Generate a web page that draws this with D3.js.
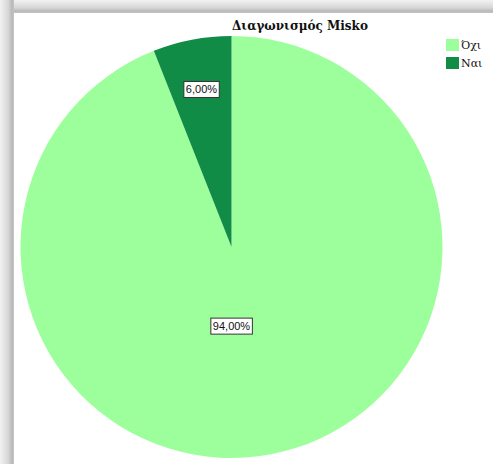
<!DOCTYPE html>
<html>
<head>
<meta charset="utf-8">
<script src="https://cdn.jsdelivr.net/npm/d3@7"></script>
<style>
  html, body { margin: 0; padding: 0; background: #fff; }
  svg { display: block; }
</style>
</head>
<body>
<svg id="chart" width="493" height="464"></svg>
<script>
// Diagnosis answers (percent of respondents)
const categories = ["Όχι", "Ναι"];
const values = [94, 6];
const valueLabels = ["94,00%", "6,00%"];
const colors = ["#9dff9b", "#118c46"];
const title = "Διαγωνισμός Misko";

const W = 493, H = 464;
const svg = d3.select("#chart");

// shadowed frame along top and left edges
const defs = svg.append("defs");
function shadeGradient(id, horizontal) {
  const gr = defs.append("linearGradient").attr("id", id)
    .attr("x1", 0).attr("y1", 0)
    .attr("x2", horizontal ? 1 : 0).attr("y2", horizontal ? 0 : 1);
  gr.append("stop").attr("offset", "0%").attr("stop-color", "#f2f2f2");
  gr.append("stop").attr("offset", "60%").attr("stop-color", "#d6d6d6");
  gr.append("stop").attr("offset", "85%").attr("stop-color", "#b9b9b9");
  gr.append("stop").attr("offset", "100%").attr("stop-color", "#c4c4c4");
}
shadeGradient("shL", true);
shadeGradient("shT", false);
svg.append("rect").attr("x", 0).attr("y", 0).attr("width", W).attr("height", H).attr("fill", "#fff");
svg.append("rect").attr("x", 0).attr("y", 0).attr("width", W).attr("height", 13).attr("fill", "url(#shT)");
svg.append("rect").attr("x", 0).attr("y", 0).attr("width", 14).attr("height", H).attr("fill", "url(#shL)");
svg.append("rect").attr("x", 14).attr("y", 13).attr("width", W - 14).attr("height", H - 13).attr("fill", "#fff");

// title
svg.append("text")
  .attr("x", 300).attr("y", 30)
  .attr("text-anchor", "middle")
  .attr("font-family", "'DejaVu Serif', 'Liberation Serif', serif")
  .attr("font-weight", "bold")
  .attr("font-size", 12)
  .attr("fill", "#111")
  .text(title);

// pie, clockwise from 12 o'clock
const cx = 231.5, cy = 247, r = 211;
const pie = d3.pie().sort(null).value(d => d);
const arcs = pie(values);
const arc = d3.arc().innerRadius(0).outerRadius(r);
const g = svg.append("g").attr("transform", `translate(${cx},${cy})`);
g.selectAll("path").data(arcs).join("path")
  .attr("d", arc)
  .attr("fill", (d, i) => colors[i]);

// value labels in boxes
const labelPos = (d, i) => {
  const share = values[i] / d3.sum(values);
  const mid = (d.startAngle + d.endAngle) / 2;
  if (share > 0.5) return [0, r * 0.375];
  const rr = r * 0.76;
  return [Math.sin(mid) * rr, -Math.cos(mid) * rr];
};
const lab = g.selectAll("g.lab").data(arcs).join("g")
  .attr("class", "lab")
  .attr("transform", (d, i) => { const p = labelPos(d, i); return `translate(${p[0]},${p[1]})`; });
lab.each(function (d, i) {
  const s = d3.select(this);
  const t = s.append("text")
    .attr("text-anchor", "middle")
    .attr("dy", "0.35em")
    .attr("font-family", "'Liberation Sans', Arial, sans-serif")
    .attr("font-size", 11)
    .attr("fill", "#111")
    .text(valueLabels[i]);
  const bb = t.node().getBBox();
  s.insert("rect", "text")
    .attr("x", bb.x - 2).attr("y", -8)
    .attr("width", bb.width + 4).attr("height", 16)
    .attr("fill", "#fff").attr("stroke", "#333").attr("stroke-width", 1);
});

// legend
const leg = svg.append("g").attr("transform", "translate(446,39)");
categories.forEach((c, i) => {
  const row = leg.append("g").attr("transform", `translate(0,${i * 18})`);
  row.append("rect").attr("width", 13).attr("height", 12).attr("fill", colors[i]);
  row.append("text").attr("x", 15).attr("y", 10)
    .attr("font-family", "'DejaVu Serif', 'Liberation Serif', serif")
    .attr("font-size", 11).attr("fill", "#111")
    .text(c);
});
</script>
</body>
</html>
